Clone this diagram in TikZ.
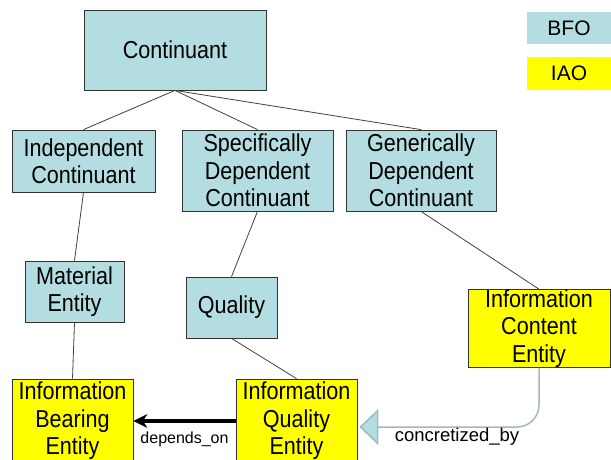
\documentclass[tikz,border=0pt]{standalone}
\usepackage{fontspec}
\setmainfont{Liberation Sans}
\newfontfamily\boxfont{Liberation Sans}[FakeStretch=0.88]
\usetikzlibrary{arrows.meta,calc}
\definecolor{bfoblue}{RGB}{180,221,225}
\definecolor{iaoyellow}{RGB}{255,255,0}
\definecolor{linkgray}{RGB}{160,185,192}
\begin{document}
\begin{tikzpicture}[x=1pt,y=-1pt,
  box/.style={draw=black!80,line width=0.8pt,align=center,inner sep=0pt,font=\boxfont\fontsize{24.5}{27.5}\selectfont},
  bfo/.style={box,fill=bfoblue},
  iao/.style={box,fill=iaoyellow},
  key/.style={align=center,inner sep=0pt,font=\fontsize{21}{25}\selectfont},
  isa/.style={draw=black!75,line width=0.8pt},
  rel/.style={inner sep=0pt,font=\fontsize{16}{18}\selectfont}]
\clip (0,0) rectangle (611,460);
% Legend
\node[key,fill=bfoblue,minimum width=84pt,minimum height=32pt] (keybfo) at (569,28) {BFO};
\node[key,fill=iaoyellow,minimum width=84pt,minimum height=33pt] (keyiao) at (569,73.5) {IAO};
% BFO classes
\node[bfo,minimum width=182pt,minimum height=80pt] (cont) at (175,50) {Continuant};
\node[bfo,minimum width=143pt,minimum height=62pt] (indep) at (83.5,161) {Independent\\Continuant};
\node[bfo,minimum width=151pt,minimum height=81pt] (sdc) at (257.5,170.5) {Specifically\\Dependent\\Continuant};
\node[bfo,minimum width=150pt,minimum height=81pt] (gdc) at (421,170.5) {Generically\\Dependent\\Continuant};
\node[bfo,minimum width=99pt,minimum height=61pt] (mat) at (74.5,291.5) {Material\\Entity};
\node[bfo,minimum width=91pt,minimum height=61pt] (qual) at (231.5,307.5) {Quality};
% IAO classes
\node[iao,minimum width=142pt,minimum height=77pt] (ice) at (539,328.5) {Information\\Content\\Entity};
\node[iao,minimum width=121pt,minimum height=84pt] (ibe) at (72.5,421) {Information\\Bearing\\Entity};
\node[iao,minimum width=121pt,minimum height=84pt] (iqe) at (296.5,421) {Information\\Quality\\Entity};
% is_a links
\foreach \a/\b in {cont/indep,cont/sdc,cont/gdc,indep/mat,mat/ibe,sdc/qual,qual/iqe,gdc/ice}
    \draw[isa] (\a.south) -- (\b.north);
% relations
\draw[line width=4pt,-{Stealth[length=14pt,width=14pt]}] (iqe.west) -- (ibe.east)
    node[rel,midway,below=9pt] (dep) {depends\_on};
\draw[linkgray,line width=1.5pt,rounded corners=22pt,-{Triangle[width=36pt,length=19pt,fill=bfoblue]}]
    (ice.south) |- ($(iqe.east)+(2,6)$);
\node[rel,font=\fontsize{18.5}{20}\selectfont] (concr) at (457,437) {concretized\_by};
\end{tikzpicture}
\end{document}
